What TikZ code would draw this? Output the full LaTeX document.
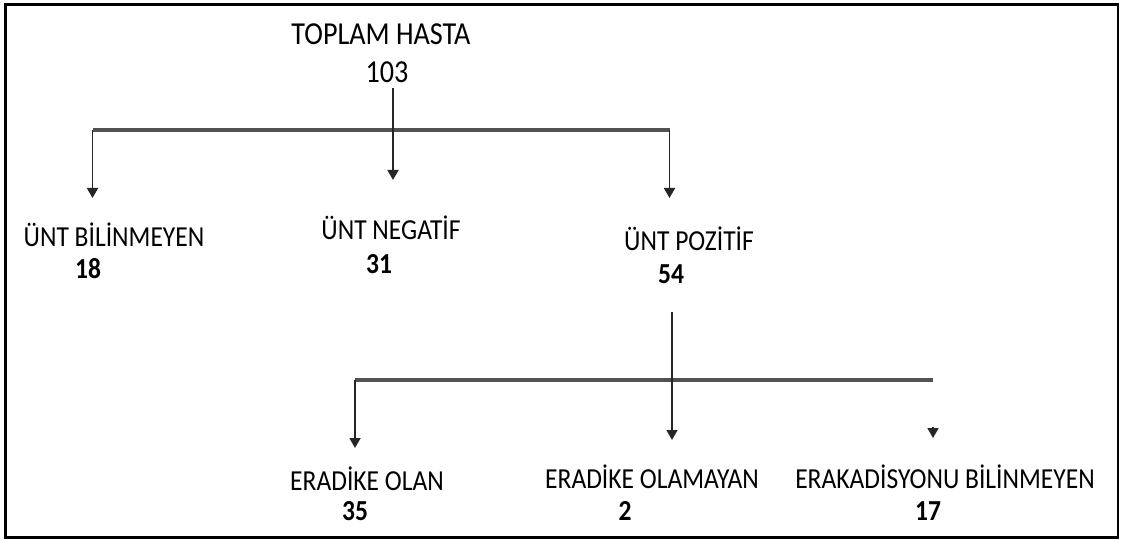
\documentclass[tikz,border=0pt]{standalone}
\usepackage{fontspec}
\setmainfont{Carlito}[FakeStretch=0.88]
\usepackage{tikz}
\usetikzlibrary{arrows.meta}

\begin{document}
\begin{tikzpicture}[
      x=1pt, y=-1pt,
      title/.style={
            anchor=base, inner sep=0pt,
            font=\fontsize{32}{36}\selectfont, text=black
        },
      grp/.style={
            anchor=base, inner sep=0pt,
            font=\fontsize{29}{33}\selectfont, text=black
        },
      num/.style={
            anchor=base, inner sep=0pt,
            font=\fontsize{29}{33}\selectfont\bfseries, text=black
        },
      bus/.style={line width=3.8pt, draw=black!68},
      drop/.style={line width=1.8pt, draw=black!85,
            -{Triangle[width=11pt,length=10pt]}}
      ]
    \useasboundingbox (0,0) rectangle (1124,540);
    \draw[line width=2.5pt] (5.5,4.5) rectangle (1118,537.5);

    % first level
    \node[title] (total) at (381,45) {TOPLAM HASTA};
    \node[title] (totaln) at (387,83) {103};
    \node[grp] (unk) at (114,247) {ÜNT BİLİNMEYEN};
    \node[num] (unkn) at (88,278) {18};
    \node[grp] (neg) at (391,240) {ÜNT NEGATİF};
    \node[num] (negn) at (379,273) {31};
    \node[grp] (pos) at (689,250) {ÜNT POZİTİF};
    \node[num] (posn) at (671,283) {54};

    % second level
    \node[grp] (erad) at (367,490) {ERADİKE OLAN};
    \node[num] (eradn) at (355,520) {35};
    \node[grp] (nonerad) at (652,488) {ERADİKE OLAMAYAN};
    \node[num] (noneradn) at (625,520) {2};
    \node[grp] (unkerad) at (945,488) {ERAKADİSYONU BİLİNMEYEN};
    \node[num] (unkeradn) at (928,520) {17};

    \coordinate (busL) at (92.5,130);
    \coordinate (busR) at (669.5,130);
    \coordinate (unktip) at (92.5,198);
    \coordinate (negtip) at (393,180);
    \coordinate (postip) at (669.5,198);

    \draw[bus] (busL) -- (busR);
    \draw[drop, shorten <=5pt] (negtip |- totaln.south) -- (negtip);
    \draw[drop] (busL) -- (unktip);
    \draw[drop] (busR) -- (postip);

    \coordinate (lowL) at (355,380);
    \coordinate (lowR) at (933,380);
    \coordinate (eradtip) at (355,448);
    \coordinate (nontip) at (672,440);
    \coordinate (unkstub) at (933,427);
    \coordinate (unkeradtip) at (933,438);

    \draw[bus] (lowL) -- (lowR);
    \draw[drop, shorten <=29pt] (nontip |- posn.south) -- (nontip);
    \draw[drop] (lowL) -- (eradtip);
    \draw[drop] (unkstub) -- (unkeradtip);
\end{tikzpicture}
\end{document}
